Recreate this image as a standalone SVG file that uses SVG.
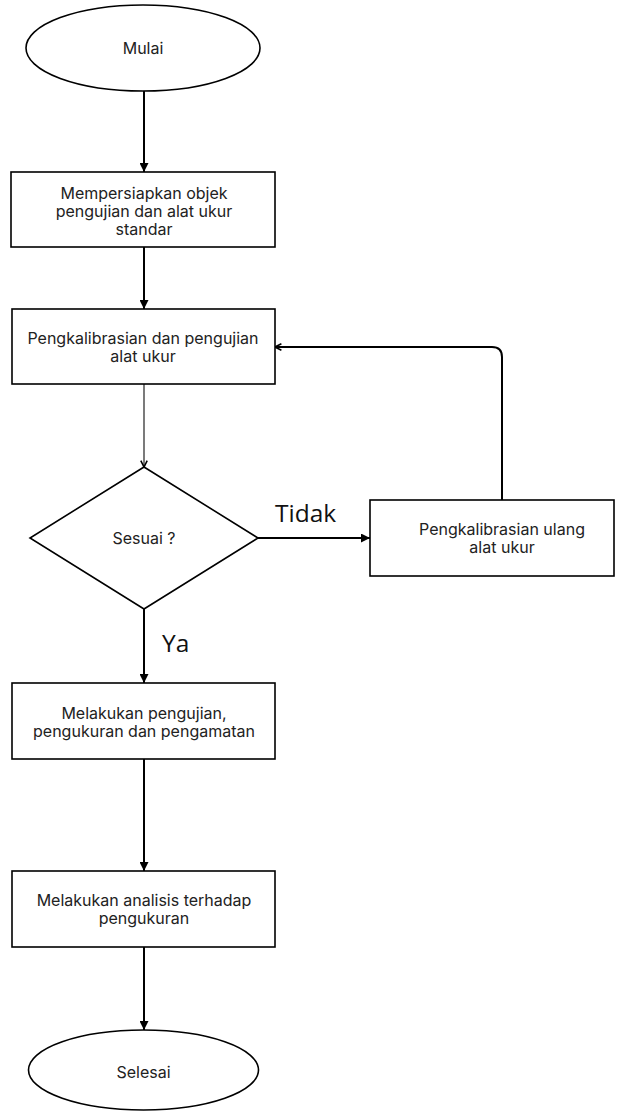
<svg xmlns="http://www.w3.org/2000/svg" width="622" height="1113" viewBox="0 0 622 1113">
<style>
.shape{fill:#fff;stroke:#000;stroke-width:1.6}
.t{font-family:Inter,"Liberation Sans",sans-serif;font-size:16px;fill:#222;text-anchor:middle}
.lbl{font-family:"Open Sans","Liberation Sans",sans-serif;font-size:24.5px;fill:#111}
.c{fill:none;stroke:#000;stroke-width:2}
.thin{fill:none;stroke:#222;stroke-width:1.2}
</style>
<defs>
<marker id="fa" viewBox="0 0 10 10" refX="10" refY="5" markerWidth="9" markerHeight="9" markerUnits="userSpaceOnUse" orient="auto">
<path d="M0,0 L10,5 L0,10 Z" fill="#000"/>
</marker>
<marker id="oa" viewBox="0 0 10 10" refX="9" refY="5" markerWidth="8" markerHeight="8" markerUnits="userSpaceOnUse" orient="auto">
<path d="M1,1 L9,5 L1,9" fill="none" stroke="#000" stroke-width="2"/>
</marker>
</defs>
<rect width="622" height="1113" fill="#fff"/>
<g id="connectors">
<path class="c" d="M144,91 V172" marker-end="url(#fa)"/>
<path class="c" d="M144,247 V309" marker-end="url(#fa)"/>
<path class="thin" d="M144,384 V467" marker-end="url(#oa)"/>
<path class="c" d="M258,538 H370" marker-end="url(#fa)"/>
<path class="c" stroke-width="1.6" d="M502,500 V357 Q502,347 492,347 H275" marker-end="url(#oa)"/>
<path class="c" d="M144,609 V683" marker-end="url(#fa)"/>
<path class="c" d="M144,759 V871" marker-end="url(#fa)"/>
<path class="c" d="M144,947 V1030" marker-end="url(#fa)"/>
<text class="lbl" x="275" y="522">Tidak</text>
<text class="lbl" x="162" y="652">Ya</text>
</g>
<g id="mulai">
<ellipse class="shape" cx="143" cy="48" rx="117" ry="43"/>
<text class="t" x="143" y="54">Mulai</text>
</g>
<g id="persiapan">
<rect class="shape" x="11" y="172" width="264" height="75"/>
<text class="t" x="144" y="199">Mempersiapkan objek</text>
<text class="t" x="144" y="217">pengujian dan alat ukur</text>
<text class="t" x="144" y="235">standar</text>
</g>
<g id="kalibrasi">
<rect class="shape" x="12" y="309" width="263" height="75"/>
<text class="t" x="143" y="344">Pengkalibrasian dan pengujian</text>
<text class="t" x="143" y="362">alat ukur</text>
</g>
<g id="sesuai">
<path class="shape" d="M144,467 L258,538 L144,609 L30,538 Z"/>
<text class="t" x="144" y="544">Sesuai ?</text>
</g>
<g id="kalibrasi-ulang">
<rect class="shape" x="370" y="500" width="244" height="76"/>
<text class="t" x="502" y="535">Pengkalibrasian ulang</text>
<text class="t" x="502" y="553">alat ukur</text>
</g>
<g id="pengujian">
<rect class="shape" x="12" y="683" width="263" height="76"/>
<text class="t" x="144" y="719">Melakukan pengujian,</text>
<text class="t" x="144" y="737">pengukuran dan pengamatan</text>
</g>
<g id="analisis">
<rect class="shape" x="12" y="871" width="263" height="76"/>
<text class="t" x="144" y="906">Melakukan analisis terhadap</text>
<text class="t" x="144" y="924">pengukuran</text>
</g>
<g id="selesai">
<ellipse class="shape" cx="143.5" cy="1070" rx="115" ry="40"/>
<text class="t" x="143.5" y="1078">Selesai</text>
</g>
</svg>
